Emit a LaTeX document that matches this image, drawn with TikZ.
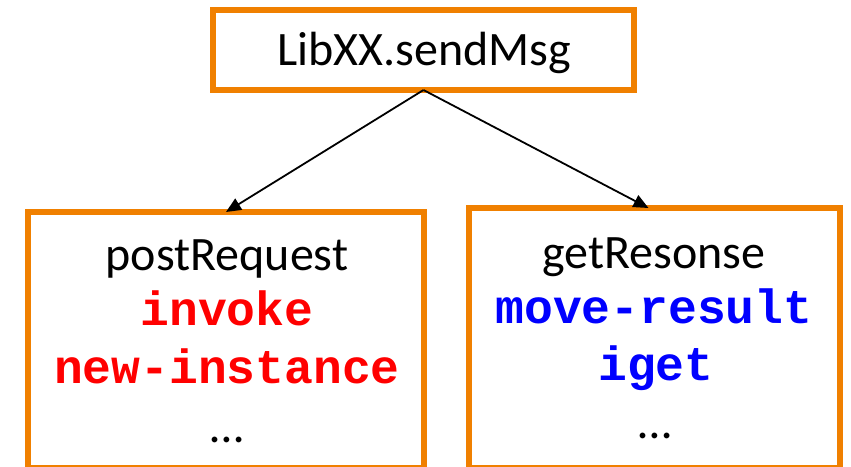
\documentclass[tikz,border=0pt]{standalone}
\usepackage{fontspec}
\setmainfont{Carlito}
\newfontfamily\codefont{Liberation Mono}
\usetikzlibrary{arrows.meta}
\definecolor{boxorange}{RGB}{240,128,0}
\definecolor{opred}{RGB}{255,0,0}
\definecolor{opblue}{RGB}{0,0,255}
\tikzset{
  framebox/.style={draw=boxorange, line width=5.5pt, outer sep=0pt, inner sep=0pt},
  word/.style={anchor=base, inner sep=0pt, font=\fontsize{48}{57}\selectfont},
  code/.style={anchor=base, inner sep=0pt, font=\fontsize{48}{57}\selectfont\codefont\bfseries},
  call/.style={draw=black, line width=1.8pt, -{Triangle[length=15pt,width=13pt]}}
}
\begin{document}
\begin{tikzpicture}[x=1pt,y=-1pt]
  \useasboundingbox (0,0) rectangle (851,466);
  % boxes
  \node[framebox, minimum width=421pt, minimum height=80pt] (top) at (423.5,50) {};
  \node[framebox, minimum width=396pt, minimum height=256pt] (lbox) at (226,340) {};
  \node[framebox, minimum width=371pt, minimum height=260pt] (rbox) at (654.5,338) {};
  % caller
  \node[word] (caller) at (424,65) {LibXX.sendMsg};
  % left callee
  \node[word] (post) at (227,270) {postRequest};
  \node[code, text=opred] (inv) at (227,325) {invoke};
  \node[code, text=opred] (newi) at (227,383) {new-instance};
  \node[word] (ldots) at (227,442) {\dots};
  % right callee
  \node[word] (get) at (654,268) {getResonse};
  \node[code, text=opblue] (mov) at (654,323) {move-result};
  \node[code, text=opblue] (iget) at (656,380) {iget};
  \node[word] (rdots) at (655,438) {\dots};
  % calls
  \draw[call] (top.south) -- (lbox.north);
  \draw[call] (top.south) -- ([xshift=-6pt]rbox.north);
\end{tikzpicture}
\end{document}
